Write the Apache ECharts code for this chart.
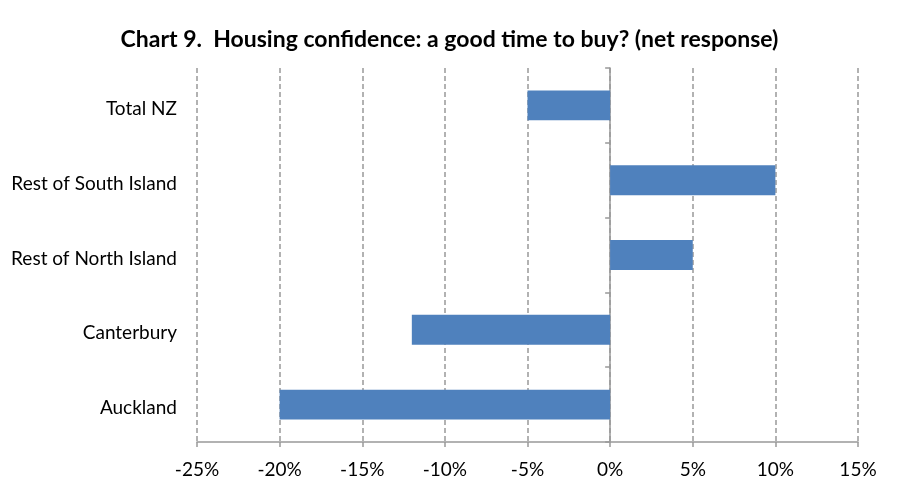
<!DOCTYPE html>
<html>
<head>
<meta charset="utf-8">
<script src="https://cdn.jsdelivr.net/npm/echarts@6/dist/echarts.min.js"></script>
<style>html,body{margin:0;padding:0;background:#fff}#c{width:899px;height:490px}</style>
</head>
<body>
<div id="c"></div>
<script>
const categories = ['Auckland', 'Canterbury', 'Rest of North Island', 'Rest of South Island', 'Total NZ'];
const values = [-20, -12, 5, 10, -5];
const xMin = -25, xMax = 15, xStep = 5;
const titleText = 'Chart 9.  Housing confidence: a good time to buy? (net response)';

const chart = echarts.init(document.getElementById('c'), null, {renderer: 'canvas'});
const FONT = 'Lato, "Open Sans", sans-serif';
chart.setOption({
  animation: false,
  backgroundColor: '#fff',
  title: {
    text: titleText, left: 'center', top: 23,
    textStyle: {fontFamily: FONT, fontSize: 23, fontWeight: 'bold', color: '#000'}
  },
  grid: {left: 197, right: 41, top: 68, bottom: 48, containLabel: false},
  xAxis: {
    type: 'value', min: xMin, max: xMax, interval: xStep,
    axisLine: {show: true, lineStyle: {color: '#999', width: 1.5}},
    axisTick: {show: true, length: 5, lineStyle: {color: '#999', width: 1.5}},
    axisLabel: {formatter: v => v + '%', fontFamily: FONT, fontSize: 19, color: '#000', margin: 18},
    splitLine: {show: true, lineStyle: {color: '#999', type: [5, 3], width: 1.5}}
  },
  yAxis: [
    {
      type: 'category', data: categories, position: 'left',
      axisLine: {show: false, onZero: false}, axisTick: {show: false},
      axisLabel: {
        fontFamily: FONT, fontSize: 19, color: '#000', margin: 20,
        formatter: v => '{a|' + v + '}',
        rich: {a: {fontFamily: FONT, fontSize: 19, color: '#000', padding: [7, 0, 0, 0]}}
      },
      splitLine: {show: false}
    },
    {
      type: 'category', data: categories, position: 'left',
      axisLine: {show: true, onZero: true, lineStyle: {color: '#999', width: 1.5}},
      axisTick: {show: true, length: 5, lineStyle: {color: '#999', width: 1.5}},
      axisLabel: {show: false}, splitLine: {show: false}
    }
  ],
  series: [{
    type: 'bar', data: values, yAxisIndex: 0,
    barCategoryGap: '60%',
    itemStyle: {color: '#4F81BD'}
  }]
});
</script>
</body>
</html>
